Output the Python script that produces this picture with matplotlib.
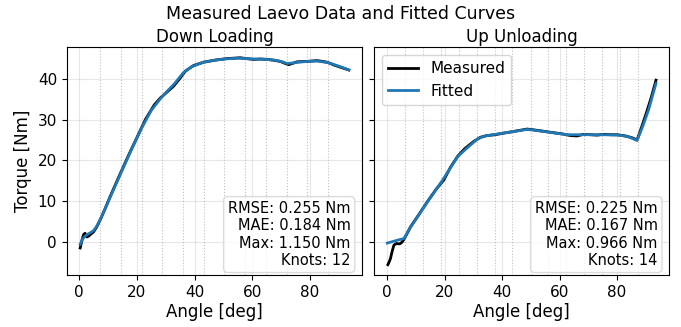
import numpy as np
import matplotlib
matplotlib.use("Agg")
import matplotlib.pyplot as plt

# Down Loading - measured
down_meas_x = [0.3, 0.6, 1.0, 1.5, 2.0, 2.6, 3.2, 4.0, 4.9, 6.0, 7.2, 9.0, 10.7, 14.0, 17.0, 20.0,
               23.0, 26.0, 28.1, 30.5, 32.7, 34.8, 36.8, 39.7, 43.1, 47.0, 51.3, 55.9, 58.0,
               60.5, 63.0, 65.2, 67.5, 69.8, 71.5, 72.7, 74.0, 75.6, 79.0, 82.6, 84.5, 86.1,
               88.5, 91.0, 93.6]
down_meas_y = [-1.5, -0.6, 0.6, 1.8, 2.1, 1.2, 1.4, 1.9, 2.4, 3.6, 5.3, 8.2, 11.1, 16.4, 21.1, 25.6,
               30.1, 33.6, 35.3, 36.8, 38.2, 40.0, 41.9, 43.3, 44.1, 44.6, 45.0, 45.2, 45.0,
               44.8, 44.9, 44.8, 44.6, 44.3, 43.8, 43.5, 43.8, 44.2, 44.3, 44.5, 44.3, 44.1,
               43.4, 42.8, 42.2]

# Down Loading - fitted
down_fit_x = [0.3, 1.0, 2.0, 3.0, 4.0, 5.0, 6.0, 7.2, 9.0, 11.0, 14.7, 18.0, 21.7, 25.0, 28.1, 30.0,
              33.0, 36.2, 39.0, 43.1, 47.0, 50.6, 55.0, 57.7, 60.5, 64.8, 68.0, 70.5, 72.1, 74.0,
              76.0, 79.3, 82.5, 86.4, 89.0, 91.5, 93.6]
down_fit_y = [-0.6, 0.5, 1.4, 1.9, 2.3, 2.8, 3.8, 5.4, 8.2, 11.4, 17.3, 22.5, 28.0, 32.3, 35.1, 36.6,
              38.8, 41.6, 43.0, 44.1, 44.6, 44.9, 45.1, 45.0, 44.9, 44.8, 44.6, 44.2, 43.8, 43.9,
              44.1, 44.3, 44.4, 44.0, 43.4, 42.8, 42.2]

# Up Unloading - measured
up_meas_x = [0.2, 0.6, 1.1, 1.7, 2.3, 3.2, 4.0, 4.6, 5.2, 5.8, 7.0, 8.1, 11.0, 14.0, 17.0, 19.7,
             22.0, 24.6, 27.0, 30.0, 32.5, 34.8, 37.5, 40.6, 44.0, 48.7, 51.0, 54.0, 57.9, 61.0,
             63.8, 66.0, 68.4, 71.0, 73.0, 75.3, 78.0, 80.0, 83.0, 85.5, 87.0, 88.8, 90.4, 92.0,
             93.6]
up_meas_y = [-5.6, -5.0, -4.1, -2.3, -0.8, -0.4, -0.5, -0.4, 0.0, 0.6, 2.2, 3.7, 6.7, 9.9, 12.9, 15.2,
             18.3, 21.1, 22.9, 24.6, 25.7, 26.1, 26.3, 26.7, 27.1, 27.7, 27.5, 27.2, 26.8, 26.5,
             26.1, 26.0, 26.4, 26.3, 26.2, 26.4, 26.3, 26.3, 26.0, 25.5, 25.0, 28.6, 32.0, 35.6,
             39.7]

# Up Unloading - fitted
up_fit_x = [0.0, 2.0, 4.0, 5.8, 8.1, 13.1, 19.1, 24.6, 28.0, 31.5, 34.0, 37.6, 44.0, 48.7, 50.1,
            56.6, 62.6, 68.7, 75.0, 80.9, 84.0, 87.0, 89.0, 91.0, 93.6]
up_fit_y = [-0.3, 0.1, 0.5, 0.8, 3.6, 8.9, 15.0, 21.0, 23.2, 25.3, 26.0, 26.4, 27.1, 27.6, 27.5,
            26.9, 26.3, 26.3, 26.3, 26.2, 25.8, 24.9, 28.4, 32.4, 38.9]

# knot positions (vertical dotted lines)
down_knots = [7.2, 14.4, 21.6, 28.8, 36.0, 43.2, 50.4, 57.6, 64.8, 72.0, 79.2, 86.4]
up_knots = [6.2, 12.5, 18.7, 24.9, 31.2, 37.4, 43.6, 49.9, 56.1, 62.3, 68.6, 74.8, 81.0, 87.3]

titles = ["Down Loading", "Up Unloading"]
stats = [
    "RMSE: 0.255 Nm\nMAE: 0.184 Nm\nMax: 1.150 Nm\nKnots: 12",
    "RMSE: 0.225 Nm\nMAE: 0.167 Nm\nMax: 0.966 Nm\nKnots: 14",
]

plt.rcParams['font.size'] = 11

fig = plt.figure(figsize=(6.81, 3.27), dpi=100)
ax1 = fig.add_axes([0.098, 0.159, 0.434, 0.696])
ax2 = fig.add_axes([0.549, 0.159, 0.434, 0.696], sharey=ax1)
axes = [ax1, ax2]

data = [
    (down_meas_x, down_meas_y, down_fit_x, down_fit_y, down_knots),
    (up_meas_x, up_meas_y, up_fit_x, up_fit_y, up_knots),
]

for i, ax in enumerate(axes):
    mx, my, fx, fy, knots = data[i]
    ax.plot(mx, my, color='black', lw=2, label='Measured')
    ax.plot(fx, fy, color='#1f77b4', lw=2, label='Fitted')
    for k in knots:
        ax.axvline(k, color='gray', linestyle=':', lw=0.8, alpha=0.5)
    ax.grid(True, alpha=0.3)
    ax.set_title(titles[i], fontsize=12, pad=4)
    ax.set_xlabel('Angle [deg]', fontsize=12, labelpad=2)
    ax.tick_params(labelsize=11)
    ax.text(0.96, 0.03, stats[i], transform=ax.transAxes, ha='right', va='bottom', fontsize=10.5,
            bbox=dict(boxstyle='round', facecolor='white', alpha=0.8, edgecolor='lightgray'))

ax1.set_ylabel('Torque [Nm]', fontsize=12)
ax1.set_xticks([0, 20, 40, 60, 80])
ax2.set_xticks([0, 20, 40, 60, 80])
plt.setp(ax2.get_yticklabels(), visible=False)
ax2.legend(loc='upper left', fontsize=11)

fig.suptitle('Measured Laevo Data and Fitted Curves', fontsize=12.5, y=0.985)

fig.savefig('out.png', dpi=100)
